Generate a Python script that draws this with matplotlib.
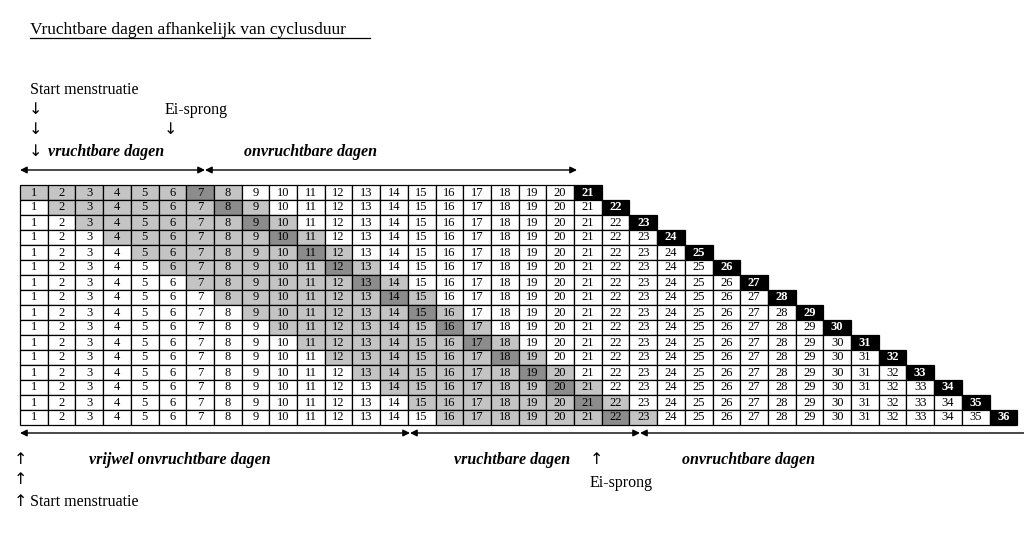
import matplotlib
matplotlib.use("Agg")
import matplotlib.pyplot as plt
from matplotlib.patches import Rectangle

cycle_lengths = list(range(21, 37))          # rows
ovulation_days = [L - 14 for L in cycle_lengths]
fertile_before = 6
fertile_after = 1

W, H = 1024, 538
fig = plt.figure(figsize=(W/100, H/100), dpi=100)
ax = fig.add_axes([0, 0, 1, 1])
ax.set_xlim(0, W); ax.set_ylim(H, 0); ax.axis("off")
plt.rcParams['font.family'] = ['Liberation Serif', 'DejaVu Serif']

x0, y0, cw, ch = 20, 184.5, 27.7, 15.0
for r, (L, O) in enumerate(zip(cycle_lengths, ovulation_days)):
    for d in range(1, L + 1):
        x = x0 + (d - 1) * cw
        y = y0 + r * ch
        if d == L:
            fc, tc, fw = "black", "white", "bold"
        elif d == O:
            fc, tc, fw = "#8c8c8c", "black", "normal"
        elif O - fertile_before <= d <= O + fertile_after:
            fc, tc, fw = "#c4c4c4", "black", "normal"
        else:
            fc, tc, fw = "white", "black", "normal"
        ax.add_patch(Rectangle((x, y), cw, ch, facecolor=fc, edgecolor="black", lw=0.9))
        ax.text(x + cw/2, y + ch/2 + 0.5, str(d), ha="center", va="center",
                fontsize=9, color=tc, fontweight=fw)

t = ax.text(30, 30, "Vruchtbare dagen afhankelijk van cyclusduur", fontsize=12.5, va="center")
ax.plot([30, 370], [38, 38], color="black", lw=0.9)

fs = 11.5
ax.text(30, 90, "Start menstruatie", fontsize=fs, va="center")
for yy in (110, 130, 152):
    ax.text(35, yy, "↓", fontsize=fs, va="center", ha="center", family=['DejaVu Sans'])
ax.text(165, 110, "Ei-sprong", fontsize=fs, va="center")
ax.text(170, 130, "↓", fontsize=fs, va="center", ha="center", family=['DejaVu Sans'])
ax.text(48, 152, "vruchtbare dagen", fontsize=fs, va="center", style="italic", weight="bold")
ax.text(310, 152, "onvruchtbare dagen", fontsize=fs, va="center", ha="center", style="italic", weight="bold")

def darrow(xa, xb, y, both=True):
    ax.annotate("", xy=(xb, y), xytext=(xa, y),
                arrowprops=dict(arrowstyle="<|-|>" if both else "-|>", color="black", lw=1,
                                mutation_scale=10, shrinkA=0, shrinkB=0))
darrow(20, 205, 170); darrow(205, 577, 170)
darrow(20, 410, 433); darrow(410, 640, 433)
ax.annotate("", xy=(640, 433), xytext=(1024, 433),
            arrowprops=dict(arrowstyle="-|>", color="black", lw=1, mutation_scale=10, shrinkA=0, shrinkB=0))

for yy in (460, 480, 502):
    ax.text(20, yy, "↑", fontsize=fs, va="center", ha="center", family=['DejaVu Sans'])
ax.text(30, 502, "Start menstruatie", fontsize=fs, va="center")
ax.text(180, 460, "vrijwel onvruchtbare dagen", fontsize=fs, va="center", ha="center", style="italic", weight="bold")
ax.text(512, 460, "vruchtbare dagen", fontsize=fs, va="center", ha="center", style="italic", weight="bold")
ax.text(596, 460, "↑", fontsize=fs, va="center", ha="center", family=['DejaVu Sans'])
ax.text(590, 483, "Ei-sprong", fontsize=fs, va="center")
ax.text(748, 460, "onvruchtbare dagen", fontsize=fs, va="center", ha="center", style="italic", weight="bold")

fig.savefig("out.png", dpi=100)
